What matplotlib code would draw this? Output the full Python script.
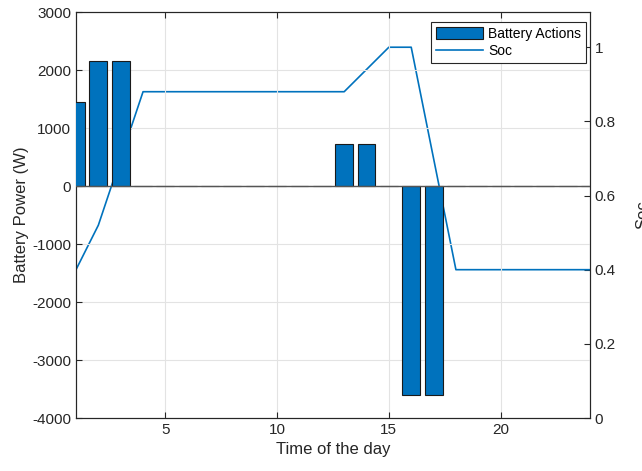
import numpy as np
import matplotlib
matplotlib.use('Agg')
from matplotlib import pyplot as plt

plt.rcParams['font.family'] = ['Liberation Sans', 'DejaVu Sans']
plt.rcParams['axes.unicode_minus'] = False

# hourly battery schedule (W) and resulting state of charge
hours = np.arange(1, 25)
battery_power = [1450, 2160, 2160, 0, 0, 0, 0, 0, 0, 0, 0, 0,
                 720, 720, 0, -3600, -3600, 0, 0, 0, 0, 0, 0, 0]
soc = [0.40, 0.52, 0.70, 0.88, 0.88, 0.88, 0.88, 0.88, 0.88, 0.88, 0.88, 0.88,
       0.88, 0.94, 1.00, 1.00, 0.70, 0.40, 0.40, 0.40, 0.40, 0.40, 0.40, 0.40]

blue = '#0072BD'
axcol = '#262626'

fig = plt.figure(figsize=(6.42, 4.71), dpi=100)
ax = fig.add_axes([76/642, 1 - 418/471, 514/642, 406/471])
ax2 = ax.twinx()
# bars sit above the soc line
ax.set_zorder(ax2.get_zorder() + 1)
ax.patch.set_visible(False)

bars = ax.bar(hours, battery_power, width=0.8, color=blue, edgecolor='#1a1a1a',
              linewidth=0.8, label='Battery Actions', zorder=3)
ax.axhline(0, color='#555555', linewidth=1.0, zorder=4)
line, = ax2.plot(hours, soc, color=blue, linewidth=1.2, label='Soc')

ax.set_xlim(1, 24)
ax.set_ylim(-4000, 3000)
ax.set_yticks(np.arange(-4000, 3001, 1000))
ax.set_xticks([5, 10, 15, 20])
ax2.set_ylim(0, 1.095)
ax2.set_yticks([0, 0.2, 0.4, 0.6, 0.8, 1])
ax2.set_yticklabels(['0', '0.2', '0.4', '0.6', '0.8', '1'])

ax.grid(True, color='#e3e3e3', linewidth=0.8, zorder=0)
ax.set_axisbelow(True)

for a in (ax, ax2):
    a.tick_params(direction='in', length=4, colors=axcol, labelsize=11, width=0.8)
    for spine in a.spines.values():
        spine.set_color(axcol)
        spine.set_linewidth(0.8)
ax.tick_params(top=True)

ax.set_xlabel('Time of the day', fontsize=12, color=axcol, labelpad=4)
ax.set_ylabel('Battery Power (W)', fontsize=12, color=axcol, labelpad=2)
ax2.set_ylabel('Soc', fontsize=12, color=axcol, labelpad=14)

leg = ax.legend([bars, line], ['Battery Actions', 'Soc'], loc='upper right',
                bbox_to_anchor=(0.992, 0.975), borderaxespad=0,
                fontsize=10, fancybox=False, framealpha=1, edgecolor=axcol,
                handlelength=3.4, handleheight=1.0, handletextpad=0.35,
                borderpad=0.35, labelspacing=0.25)
leg.get_frame().set_linewidth(0.8)

plt.savefig('out.png', dpi=100)
